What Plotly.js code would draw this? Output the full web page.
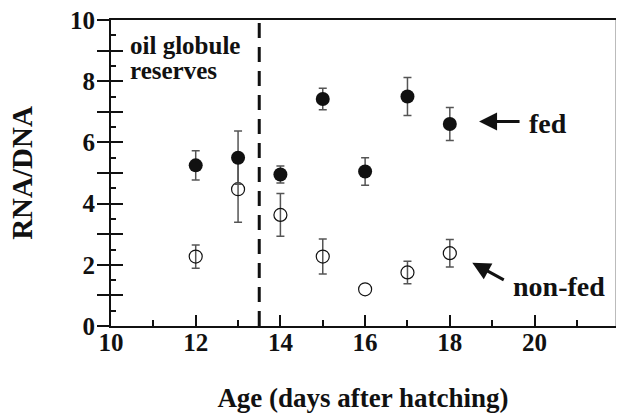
<!DOCTYPE html>
<html>
<head>
<meta charset="utf-8">
<script src="https://cdn.plot.ly/plotly-3.0.1.min.js"></script>
<style>html,body{margin:0;padding:0;background:#fff;}#chart{width:617px;height:413px;}</style>
</head>
<body>
<div id="chart"></div>
<script>
// ---- data ----
const days = [12, 13, 14, 15, 16, 17, 18];
const fedMean = [5.25, 5.5, 4.95, 7.42, 5.05, 7.5, 6.6];
const fedErr = [0.48, 0.87, 0.28, 0.35, 0.45, 0.62, 0.54];
const nonFedMean = [2.27, 4.47, 3.63, 2.27, 1.2, 1.75, 2.38];
const nonFedErr = [0.38, 1.08, 0.7, 0.57, NaN, 0.37, 0.45];
const reserveEndDay = [13.5, 13.5];
const reserveLineY = [0, 10];
const xTickVals = [10, 12, 14, 16, 18, 20];
const xTickText = ['10', '12', '14', '16', '18', '20'];
const xMinorVals = [11, 13, 15, 17, 19, 21];
const yTickVals = [0, 1, 2, 3, 4, 5, 6, 7, 8, 9, 10];
const yTickText = ['0', '', '2', '', '4', '', '6', '', '8', '', '10'];
const yInnerVals = [1, 2, 3, 4, 5, 6, 7, 8, 9];
const yMinorVals = [0.5, 1.5, 2.5, 3.5, 4.5, 5.5, 6.5, 7.5, 8.5, 9.5];
const xTitle = 'Age (days after hatching)';
const yTitle = 'RNA/DNA';

const serif = 'Liberation Serif';
const bold = (size) => ({family: serif, size: size, weight: 'bold', color: '#111'});

const traces = [
  {
    x: reserveEndDay, y: reserveLineY, yaxis: 'y2', mode: 'lines', type: 'scatter',
    line: {color: '#111', width: 3, dash: '15px,9px'},
    hoverinfo: 'skip', showlegend: false
  },
  {
    x: days, y: fedMean, yaxis: 'y3', mode: 'markers', type: 'scatter', name: 'fed',
    marker: {symbol: 'circle', size: 14, color: '#111'},
    error_y: {type: 'data', array: fedErr, visible: true, color: '#555', thickness: 1.5, width: 4},
    showlegend: false
  },
  {
    x: days, y: nonFedMean, mode: 'markers', type: 'scatter', name: 'non-fed',
    marker: {symbol: 'circle-open', size: 13, color: '#111', line: {width: 1.2, color: '#111'}},
    error_y: {type: 'data', array: nonFedErr, visible: true, color: '#555', thickness: 1.5, width: 4},
    showlegend: false
  }
];

const layout = {
  width: 617, height: 413,
  margin: {l: 111, r: 2, t: 20, b: 87},
  paper_bgcolor: '#fff', plot_bgcolor: '#fff',
  showlegend: false,
  font: {family: serif, color: '#111'},
  xaxis: {
    range: [10, 21.9], showgrid: false, zeroline: false,
    showline: true, linecolor: '#111', linewidth: 2, mirror: true,
    tickmode: 'array', tickvals: xTickVals, ticktext: xTickText,
    ticks: 'inside', ticklen: 11, tickwidth: 2, tickcolor: '#111',
    tickfont: bold(25), ticklabelstandoff: -7,
    minor: {tickmode: 'array', tickvals: xMinorVals, ticks: 'inside', ticklen: 6, tickwidth: 2, tickcolor: '#111', showgrid: false},
    title: {text: xTitle, font: bold(27), standoff: 34}
  },
  yaxis: {
    range: [0, 10], showgrid: false, zeroline: false,
    showline: true, linecolor: '#111', linewidth: 2,
    tickmode: 'array', tickvals: yTickVals, ticktext: yTickText,
    ticks: 'outside', ticklen: 12, tickwidth: 2, tickcolor: '#111',
    tickfont: bold(25), ticklabelstandoff: -3,
    title: {text: yTitle, font: bold(29), standoff: 29}
  },
  yaxis2: {
    overlaying: 'y', anchor: 'x', side: 'left', range: [0, 10],
    showgrid: false, zeroline: false, showline: false, showticklabels: false,
    tickmode: 'array', tickvals: yInnerVals,
    ticks: 'inside', ticklen: 12, tickwidth: 2, tickcolor: '#111',
    minor: {tickmode: 'array', tickvals: yMinorVals, ticks: 'inside', ticklen: 5, tickwidth: 2, tickcolor: '#111', showgrid: false}
  },
  yaxis3: {
    overlaying: 'y', anchor: 'x', side: 'right', range: [0, 10],
    showgrid: false, zeroline: false, showline: true, linecolor: '#bbb', linewidth: 1,
    showticklabels: false, ticks: ''
  },
  annotations: [
    {x: 10.41, y: 9.17, xref: 'x', yref: 'y', text: 'oil globule', showarrow: false, xanchor: 'left', yanchor: 'middle', font: bold(25)},
    {x: 10.41, y: 8.35, xref: 'x', yref: 'y', text: 'reserves', showarrow: false, xanchor: 'left', yanchor: 'middle', font: bold(25)},
    {x: 18.69, y: 6.68, xref: 'x', yref: 'y', text: '', showarrow: true, ax: 42, ay: 0,
     arrowhead: 2, arrowsize: 1.2, arrowwidth: 3, arrowcolor: '#111'},
    {x: 19.83, y: 6.63, xref: 'x', yref: 'y', text: 'fed', showarrow: false, xanchor: 'left', yanchor: 'middle', font: bold(28)},
    {x: 18.53, y: 2.07, xref: 'x', yref: 'y', text: '', showarrow: true, ax: 33, ay: 18,
     arrowhead: 2, arrowsize: 1.2, arrowwidth: 3, arrowcolor: '#111'},
    {x: 19.45, y: 1.29, xref: 'x', yref: 'y', text: 'non-fed', showarrow: false, xanchor: 'left', yanchor: 'middle', font: bold(28)}
  ]
};

Plotly.newPlot('chart', traces, layout, {staticPlot: true, displayModeBar: false});
</script>
</body>
</html>
